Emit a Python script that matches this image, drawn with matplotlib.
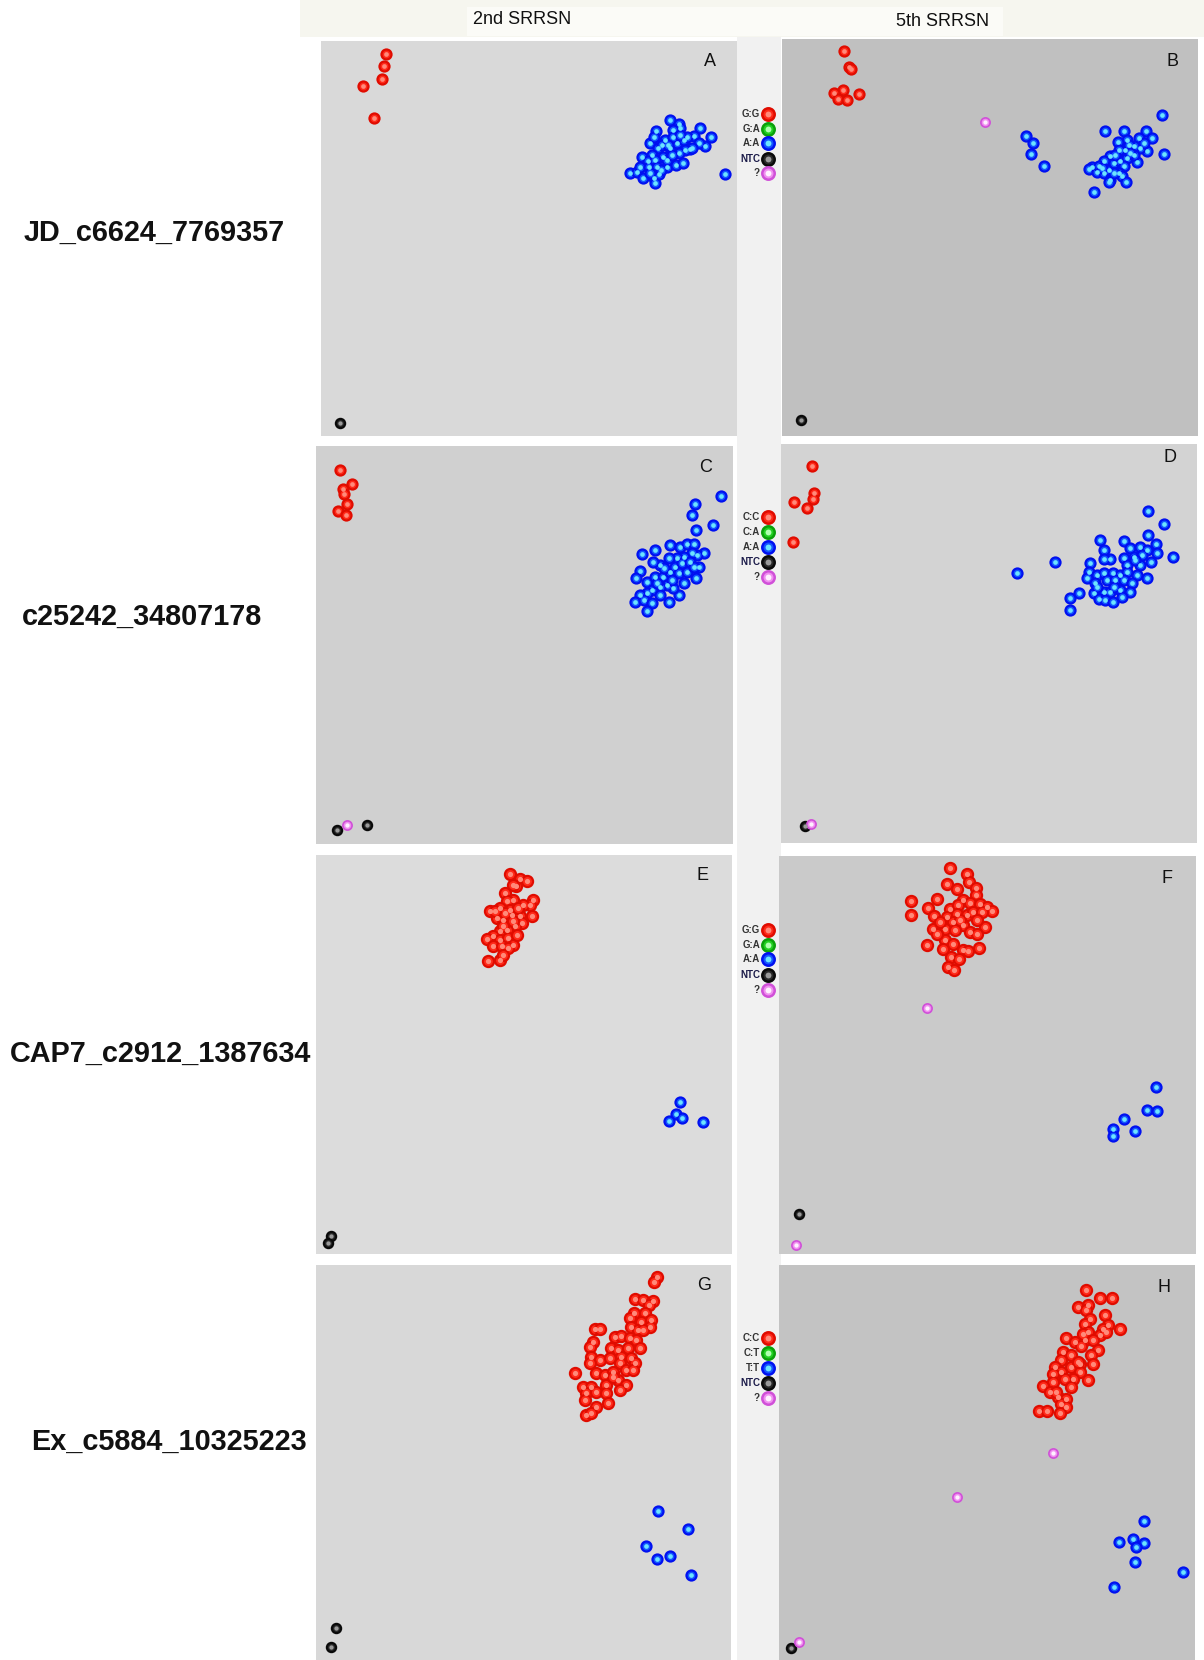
import numpy as np
import matplotlib.pyplot as plt
from matplotlib.patches import Rectangle

plt.rcParams['font.family'] = ['Liberation Sans', 'DejaVu Sans']

W, H = 1204, 1660

markers = ["JD_c6624_7769357", "c25242_34807178", "CAP7_c2912_1387634", "Ex_c5884_10325223"]
generations = ["2nd SRRSN", "5th SRRSN"]
panel_letters = ["A", "B", "C", "D", "E", "F", "G", "H"]
legend_labels = [
    ["G:G", "G:A", "A:A", "NTC", "?"],
    ["C:C", "C:A", "A:A", "NTC", "?"],
    ["G:G", "G:A", "A:A", "NTC", "?"],
    ["C:C", "C:T", "T:T", "NTC", "?"],
]

# signal range shown on each plot (allele X, allele Y)
ranges = [(1248, 1185), (1248, 1190), (1249, 1196), (1247, 1196),
          (1248, 1196), (1251, 1195), (1246, 1185), (1248, 1186)]

# ---- genotype calls, (allele X, allele Y) per sample ----
A_hom1 = [(195, 1145), (189, 1111), (183, 1071), (125, 1051), (158, 953)]
A_hom2 = [(1048, 948), (1075, 935), (1006, 915), (1136, 923), (1171, 898), (1153, 870), (986, 878),
          (963, 838), (928, 790), (948, 793), (965, 773), (1000, 773), (1003, 760), (1013, 786),
          (1038, 808), (1066, 813), (1086, 818), (1106, 860), (1118, 900), (1078, 923), (1056, 918),
          (1033, 888), (1010, 863), (993, 843), (980, 826), (958, 808), (983, 808), (1026, 838),
          (1048, 863), (1068, 878), (1088, 888), (1098, 898), (1056, 898), (1023, 873), (1003, 828),
          (1038, 828), (1133, 878), (1113, 863), (1093, 858), (1073, 848), (1008, 808), (1020, 798),
          (988, 788), (1053, 843), (1078, 903), (1041, 873), (998, 898), (1211, 786)]
A_ntc = [(57, 38)]
A_unk = []

B_hom1 = [(187, 1153), (200, 1105), (207, 1100), (182, 1038), (157, 1028), (167, 1010), (195, 1008), (232, 1025)]
B_hom2 = [(733, 898), (752, 878), (748, 846), (787, 810),
          (1140, 962), (970, 915), (1027, 915), (1092, 913), (1110, 893), (1070, 893), (1035, 888),
          (1007, 880), (1145, 846), (1095, 853), (1075, 863), (1055, 868), (1030, 858), (1010, 858),
          (985, 838), (965, 823), (930, 805), (920, 800), (945, 790), (965, 788), (980, 798), (995, 818),
          (1015, 823), (1035, 833), (1065, 820), (1055, 843), (1025, 808), (1010, 788), (985, 768),
          (980, 760), (1020, 778), (1033, 761), (935, 731), (1000, 843), (1040, 873), (1085, 878),
          (950, 808), (995, 788), (1045, 848), (960, 803)]
B_ntc = [(57, 48)]
B_unk = [(610, 942)]

C_hom1 = [(73, 1123), (109, 1081), (81, 1068), (84, 1051), (93, 1021), (66, 1000), (91, 990)]
C_hom2 = [(1214, 1045), (1135, 1023), (1127, 989), (1189, 960), (1138, 943), (976, 870), (1016, 883),
          (1061, 900), (1091, 891), (1111, 903), (1131, 903), (1161, 873), (1141, 868), (1126, 873),
          (1101, 863), (1081, 858), (1056, 858), (1031, 838), (1009, 848), (971, 820), (959, 800),
          (991, 788), (1016, 803), (1039, 803), (1059, 818), (1076, 833), (1096, 843), (1121, 848),
          (1146, 831), (1139, 800), (1101, 785), (1086, 748), (1069, 768), (1051, 778), (1031, 773),
          (1006, 763), (991, 753), (969, 748), (954, 726), (981, 733), (1006, 723), (991, 701),
          (1056, 726), (1031, 748), (1086, 813), (1066, 793), (1111, 818), (1131, 833), (1041, 828),
          (1021, 783)]
C_ntc = [(64, 43), (154, 56)]
C_unk = [(92, 56)]

D_hom1 = [(94, 1131), (99, 1048), (95, 1030), (39, 1023), (77, 1005), (37, 901)]
D_hom2 = [(707, 808), (820, 843), (867, 733), (867, 698), (892, 748), (1099, 995), (1147, 955),
          (1175, 856), (1099, 923), (957, 908), (1027, 905), (1125, 896), (967, 878), (1047, 883),
          (1077, 888), (1097, 878), (1127, 870), (987, 851), (967, 851), (1027, 853), (1057, 858),
          (1082, 863), (925, 840), (1037, 833), (1077, 833), (1109, 843), (922, 813), (947, 803),
          (967, 808), (995, 808), (1017, 803), (1037, 813), (1067, 803), (1097, 795), (917, 793),
          (942, 780), (977, 788), (1002, 788), (1027, 788), (1052, 778), (937, 750), (967, 753),
          (987, 753), (1017, 758), (1047, 753), (952, 730), (972, 728), (995, 723), (1022, 738),
          (947, 768), (997, 768), (1062, 848)]
D_ntc = [(72, 51)]
D_unk = [(89, 58)]

E_hom1 = [(582, 1139), (612, 1124), (632, 1117), (600, 1102), (592, 1107), (567, 1082), (652, 1062),
          (642, 1047), (622, 1047), (592, 1062), (572, 1057), (552, 1037), (522, 1027), (542, 1007),
          (562, 1002), (587, 1017), (612, 1012), (649, 1012), (617, 992), (597, 982), (572, 972),
          (552, 967), (532, 952), (512, 944), (552, 942), (577, 947), (592, 927), (532, 922),
          (557, 922), (577, 917), (517, 879), (552, 882), (562, 897), (582, 1032), (607, 1037),
          (567, 1022), (537, 1027), (602, 957), (592, 999), (562, 984)]
E_hom2 = [(1092, 455), (1079, 419), (1099, 407), (1059, 399), (1162, 395)]
E_ntc = [(45, 55), (37, 34)]
E_unk = []

F_hom1 = [(513, 1160), (563, 1142), (571, 1117), (503, 1112), (535, 1097), (591, 1100), (591, 1077),
          (396, 1060), (475, 1067), (553, 1062), (573, 1054), (603, 1052), (623, 1042), (640, 1029),
          (448, 1040), (513, 1037), (538, 1047), (395, 1019), (465, 1015), (503, 1012), (533, 1022),
          (563, 1017), (583, 1027), (608, 1027), (523, 997), (553, 987), (618, 982), (463, 977),
          (498, 977), (528, 972), (573, 967), (593, 962), (443, 929), (498, 942), (523, 932),
          (491, 915), (553, 912), (568, 910), (601, 920), (515, 892), (541, 887), (508, 862),
          (526, 854), (483, 997), (543, 1002), (593, 1002), (473, 962)]
F_hom2 = [(1131, 500), (1103, 432), (1133, 429), (1035, 404), (1003, 374), (1068, 370), (1003, 354)]
F_ntc = [(60, 119)]
F_unk = [(443, 740), (51, 27)]

G_hom1 = [(1024, 1150), (1015, 1135), (957, 1082), (982, 1080), (1012, 1078), (1000, 1065), (987, 1040),
          (955, 1040), (942, 1025), (977, 1015), (1007, 1020), (1002, 1000), (947, 1000), (967, 990),
          (837, 993), (852, 993), (897, 968), (917, 972), (942, 965), (962, 960), (832, 955),
          (822, 940), (887, 935), (907, 930), (937, 935), (972, 935), (827, 910), (852, 900),
          (882, 905), (917, 910), (947, 905), (957, 890), (822, 890), (912, 890), (932, 870),
          (842, 860), (867, 855), (892, 865), (777, 860), (907, 840), (802, 820), (827, 820),
          (872, 825), (932, 825), (812, 800), (842, 805), (872, 800), (912, 810), (807, 780),
          (877, 770), (842, 758), (812, 735), (827, 740), (892, 850), (952, 870), (982, 990)]
G_hom2 = [(1027, 447), (1117, 394), (992, 343), (1025, 303), (1062, 312), (1127, 255)]
G_ntc = [(59, 95), (44, 38)]
G_unk = []

H_hom1 = [(920, 1112), (964, 1087), (999, 1087), (897, 1060), (927, 1065), (922, 1050), (977, 1035),
          (932, 1025), (917, 1010), (987, 1005), (1022, 995), (972, 995), (927, 985), (962, 975),
          (862, 967), (887, 955), (917, 960), (942, 960), (907, 942), (957, 932), (852, 925),
          (877, 915), (937, 915), (942, 890), (902, 890), (847, 900), (827, 880), (877, 880),
          (847, 865), (822, 860), (902, 865), (882, 845), (857, 845), (927, 840), (822, 835),
          (792, 822), (877, 820), (812, 805), (837, 790), (862, 785), (847, 770), (862, 760),
          (780, 748), (804, 748), (842, 742), (832, 805), (897, 895), (982, 985), (912, 980)]
H_hom2 = [(1095, 416), (1019, 354), (1062, 362), (1095, 350), (1070, 338), (1069, 294), (1213, 263), (1005, 218)]
H_ntc = [(37, 37)]
H_unk = [(822, 622), (534, 488), (59, 53)]

panels = [
    (A_hom1, A_hom2, A_ntc, A_unk), (B_hom1, B_hom2, B_ntc, B_unk),
    (C_hom1, C_hom2, C_ntc, C_unk), (D_hom1, D_hom2, D_ntc, D_unk),
    (E_hom1, E_hom2, E_ntc, E_unk), (F_hom1, F_hom2, F_ntc, F_unk),
    (G_hom1, G_hom2, G_ntc, G_unk), (H_hom1, H_hom2, H_ntc, H_unk),
]

# ---- layout (pixels) ----
boxes = [(321, 41, 737, 436), (782, 39, 1198, 436),
         (316, 446, 733, 844), (781, 444, 1197, 843),
         (316, 855, 732, 1254), (779, 856, 1196, 1254),
         (316, 1265, 731, 1660), (779, 1265, 1195, 1660)]
bg_colors = ['#d9d9d9', '#c0c0c0', '#d0d0d0', '#d3d3d3',
             '#dcdcdc', '#cacaca', '#d8d8d8', '#c3c3c3']
letter_pos = [(710, 62), (1173, 62), (706, 467), (1170, 457),
              (703, 875), (1167, 878), (704, 1285), (1164, 1287)]
label_pos = [(24, 233), (22, 617), (10, 1054), (31, 1442)]
legend_rows = [[114, 129, 143, 159, 173], [517, 532, 547, 562, 577],
               [930, 945, 959, 975, 990], [1338, 1353, 1368, 1383, 1398]]

# glossy dot style: face, edge, highlight
styles = {
    'hom1': ('#ff2a1a', '#e00c00', '#ff8a7a'),
    'het': ('#22d022', '#0aa00a', '#b0ffb0'),
    'hom2': ('#1456ff', '#0010f0', '#6ce4ff'),
    'ntc': ('#2a2a2a', '#0a0a0a', '#9a9a9a'),
    'unk': ('#f090f0', '#d050d8', '#fff0ff'),
}


def dots(ax, pts, key, s=52, lw=1.6):
    if not pts:
        return
    p = np.array(pts, dtype=float)
    face, edge, hi = styles[key]
    ax.scatter(p[:, 0], p[:, 1], s=s, c=face, edgecolors=edge, linewidths=lw, zorder=3)
    ax.scatter(p[:, 0], p[:, 1], s=s * 0.22, c=hi, linewidths=0, zorder=4)


fig = plt.figure(figsize=(W / 100, H / 100), dpi=100)
fig.patch.set_facecolor('white')

bg = fig.add_axes([0, 0, 1, 1], zorder=-1)
bg.set_xlim(0, W)
bg.set_ylim(H, 0)
bg.axis('off')
bg.add_patch(Rectangle((300, 0), 904, 37, color='#f6f6ef', lw=0))
bg.add_patch(Rectangle((467, 7), 536, 29, color='#fbfbf7', lw=0))
bg.add_patch(Rectangle((737, 37), 44, H - 37, color='#f1f1f1', lw=0))

fig.text(473 / W, 1 - 19 / H, generations[0], fontsize=13, ha='left', va='center', color='#111111')
fig.text(896 / W, 1 - 21 / H, generations[1], fontsize=13, ha='left', va='center', color='#111111')

for i, (x0, y0, x1, y1) in enumerate(boxes):
    ax = fig.add_axes([x0 / W, 1 - y1 / H, (x1 - x0) / W, (y1 - y0) / H])
    ax.set_facecolor(bg_colors[i])
    hom1, hom2, ntc, unk = panels[i]
    s_red = 52 if i < 4 else 64
    dots(ax, ntc, 'ntc', s=44)
    dots(ax, unk, 'unk', s=44, lw=1.2)
    dots(ax, hom2, 'hom2', s=52)
    dots(ax, hom1, 'hom1', s=s_red)
    ax.set_xlim(0, ranges[i][0])
    ax.set_ylim(0, ranges[i][1])
    ax.set_xticks([])
    ax.set_yticks([])
    for sp in ax.spines.values():
        sp.set_visible(False)
    fig.text(letter_pos[i][0] / W, 1 - letter_pos[i][1] / H, panel_letters[i],
             fontsize=13, ha='center', va='center', color='#111111')

# row labels
for name, (lx, ly) in zip(markers, label_pos):
    fig.text(lx / W, 1 - ly / H, name, fontsize=20.8, fontweight='bold',
             ha='left', va='center', color='#111111')

# genotype keys between the two columns
keys = ['hom1', 'het', 'hom2', 'ntc', 'unk']
for labels, ys in zip(legend_labels, legend_rows):
    for lab, yy, key in zip(labels, ys, keys):
        face, edge, hi = styles[key]
        bg.scatter([768], [yy], s=80, c=face, edgecolors=edge, linewidths=1.8, zorder=3)
        bg.scatter([768], [yy], s=18, c=hi, linewidths=0, zorder=4)
        bg.text(760, yy, lab, fontsize=7, fontweight='bold', ha='right', va='center',
                color='#1c1c4a' if lab == 'NTC' else '#333333')

fig.savefig('out.png', dpi=100)
